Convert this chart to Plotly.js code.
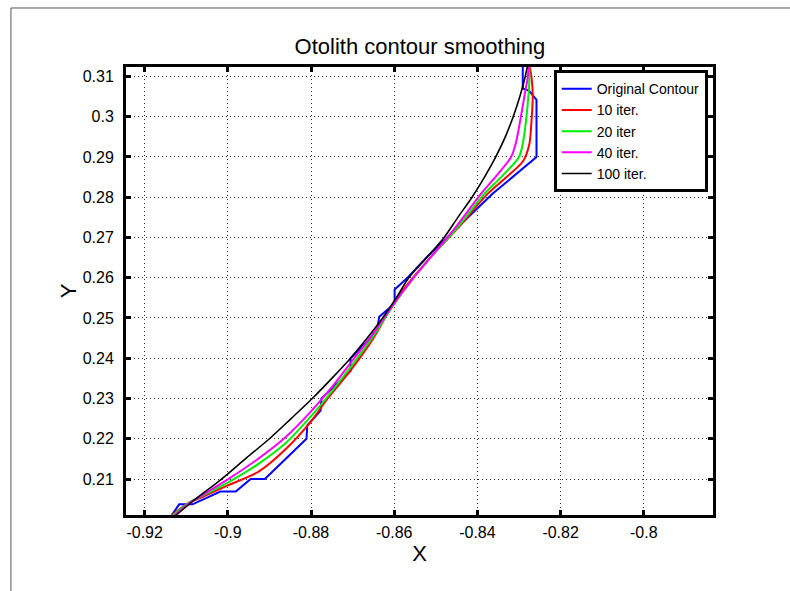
<!DOCTYPE html>
<html>
<head>
<meta charset="utf-8">
<script src="https://cdn.plot.ly/plotly-3.0.1.min.js"></script>
<style>
  html, body { margin: 0; padding: 0; background: #fff; }
  #chart { width: 790px; height: 591px; }
</style>
</head>
<body>
<div id="chart"></div>
<script>
// ---- Data ----
const origX = [-0.9135, -0.9117, -0.9085, -0.9018, -0.8981, -0.8945, -0.8911, -0.8811, -0.8809, -0.8777, -0.8775, -0.8705, -0.8705, -0.8642, -0.8636, -0.8599, -0.8599, -0.8568, -0.8520, -0.8450, -0.8363, -0.8258, -0.8258, -0.8276, -0.8291, -0.8291];
const origY = [0.2010, 0.2037, 0.2037, 0.2069, 0.2069, 0.2100, 0.2100, 0.2200, 0.2233, 0.2270, 0.2300, 0.2368, 0.2400, 0.2466, 0.2503, 0.2536, 0.2571, 0.2600, 0.2653, 0.2722, 0.2809, 0.2900, 0.3042, 0.3065, 0.3070, 0.3135];

const it10X = [-0.9135, -0.9095, -0.9058, -0.9000, -0.8925, -0.8860, -0.8800, -0.8760, -0.8705, -0.8650, -0.8600, -0.8555, -0.8508, -0.8450, -0.8375, -0.8330, -0.8290, -0.8275, -0.8271, -0.8267, -0.8270, -0.8276];
const it10Y = [0.2010, 0.2040, 0.2057, 0.2084, 0.2119, 0.2175, 0.2243, 0.2300, 0.2370, 0.2450, 0.2540, 0.2600, 0.2656, 0.2720, 0.2809, 0.2850, 0.2890, 0.2933, 0.2974, 0.3057, 0.3098, 0.3135];

const it20X = [-0.9132, -0.9095, -0.9058, -0.9000, -0.8930, -0.8860, -0.8800, -0.8750, -0.8700, -0.8650, -0.8600, -0.8555, -0.8508, -0.8450, -0.8383, -0.8343, -0.8300, -0.8291, -0.8285, -0.8277, -0.8275, -0.8276];
const it20Y = [0.2010, 0.2040, 0.2060, 0.2091, 0.2135, 0.2190, 0.2256, 0.2318, 0.2385, 0.2455, 0.2535, 0.2598, 0.2656, 0.2722, 0.2809, 0.2850, 0.2900, 0.2933, 0.2974, 0.3057, 0.3098, 0.3135];

const it40X = [-0.9128, -0.9090, -0.9058, -0.9000, -0.8930, -0.8860, -0.8800, -0.8750, -0.8700, -0.8650, -0.8600, -0.8555, -0.8508, -0.8455, -0.8391, -0.8357, -0.8319, -0.8308, -0.8300, -0.8286, -0.8279, -0.8276];
const it40Y = [0.2010, 0.2042, 0.2062, 0.2099, 0.2148, 0.2205, 0.2268, 0.2328, 0.2395, 0.2462, 0.2537, 0.2598, 0.2656, 0.2722, 0.2809, 0.2850, 0.2900, 0.2933, 0.2974, 0.3057, 0.3098, 0.3135];

const it100X = [-0.9125, -0.9078, -0.9015, -0.8958, -0.8900, -0.8848, -0.8797, -0.8750, -0.8705, -0.8665, -0.8628, -0.8595, -0.8565, -0.8522, -0.8480, -0.8447, -0.8413, -0.8383, -0.8356, -0.8333, -0.8314, -0.8298, -0.8285, -0.8279];
const it100Y = [0.2010, 0.2050, 0.2100, 0.2150, 0.2200, 0.2250, 0.2300, 0.2350, 0.2400, 0.2450, 0.2500, 0.2550, 0.2600, 0.2650, 0.2700, 0.2750, 0.2800, 0.2850, 0.2900, 0.2950, 0.3000, 0.3050, 0.3100, 0.3130];

const seriesNames = ["Original Contour", "10 iter.", "20 iter", "40 iter.", "100 iter."];

const xTickVals = [-0.92, -0.9, -0.88, -0.86, -0.84, -0.82, -0.8];
const xTickText = ["-0.92", "-0.9", "-0.88", "-0.86", "-0.84", "-0.82", "-0.8"];
const yTickVals = [0.21, 0.22, 0.23, 0.24, 0.25, 0.26, 0.27, 0.28, 0.29, 0.3, 0.31];
const yTickText = ["0.21", "0.22", "0.23", "0.24", "0.25", "0.26", "0.27", "0.28", "0.29", "0.3", "0.31"];

// ---- Traces ----
const colors = ["#0000ff", "#ff0000", "#00ee00", "#ff00ff", "#000000"];
const xs = [origX, it10X, it20X, it40X, it100X];
const ys = [origY, it10Y, it20Y, it40Y, it100Y];
const widths = [2, 2, 2, 2, 1.6];

const traces = xs.map((x, i) => ({
  x: x, y: ys[i], type: "scatter", mode: "lines",
  name: seriesNames[i],
  line: i === 0
    ? { color: colors[i], width: widths[i] }
    : { color: colors[i], width: widths[i], shape: "spline", smoothing: 0.8 }
}));

const FONT = "Liberation Sans, Arial, sans-serif";

const axisCommon = {
  showline: true, linecolor: "#000", linewidth: 3, mirror: "ticks",
  ticks: "inside", ticklen: 5, tickwidth: 3, tickcolor: "#000",
  showgrid: true, gridcolor: "#333", gridwidth: 1, griddash: "1px,3px",
  zeroline: false,
  tickfont: { family: FONT, size: 16, color: "#000" },
  tickmode: "array"
};

const layout = {
  width: 790, height: 591,
  paper_bgcolor: "#fff", plot_bgcolor: "#fff",
  margin: { l: 126, r: 77, t: 67, b: 76 },
  showlegend: true,
  title: {
    text: "Otolith contour smoothing",
    x: 0.5315, xanchor: "center", y: 0.922, yanchor: "middle",
    font: { family: FONT, size: 22, color: "#000" }
  },
  xaxis: Object.assign({}, axisCommon, {
    range: [-0.92448, -0.78337],
    tickvals: xTickVals, ticktext: xTickText,
    ticklabelstandoff: 1,
    title: { text: "X", standoff: 0, font: { family: FONT, size: 22, color: "#000" } }
  }),
  yaxis: Object.assign({}, axisCommon, {
    range: [0.20106, 0.31235],
    tickvals: yTickVals, ticktext: yTickText,
    ticklabelstandoff: 6,
    title: { text: "Y", standoff: 0, font: { family: FONT, size: 22, color: "#000" } }
  }),
  legend: {
    x: 0.991, xanchor: "right", y: 0.993, yanchor: "top",
    bgcolor: "#fff", bordercolor: "#000", borderwidth: 3,
    font: { family: FONT, size: 14, color: "#000" },
    tracegroupgap: 0, itemwidth: 30
  },
  shapes: [
    { type: "line", xref: "paper", yref: "paper", x0: -0.196, x1: -0.196, y0: 1.1317, y1: -0.2, line: { color: "#555", width: 1 } },
    { type: "line", xref: "paper", yref: "paper", x0: -0.196, x1: 1.15, y0: 1.1317, y1: 1.1317, line: { color: "#555", width: 1 } }
  ]
};

Plotly.newPlot("chart", traces, layout, { displayModeBar: false, staticPlot: true });
</script>
</body>
</html>
